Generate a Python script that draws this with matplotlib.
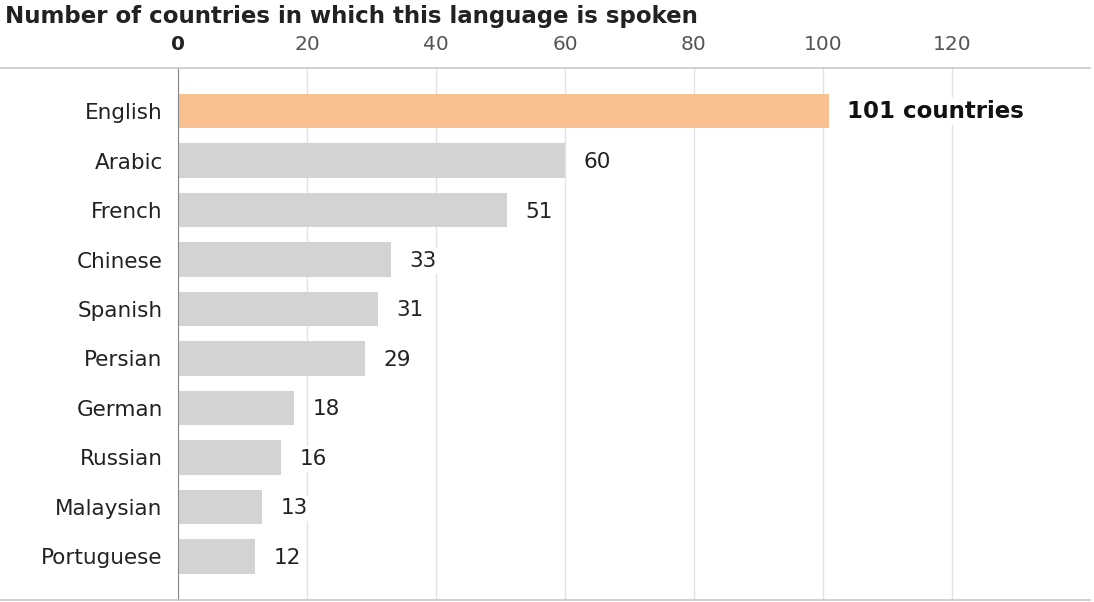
import matplotlib.pyplot as plt
from matplotlib.lines import Line2D

# Data
languages = ["English", "Arabic", "French", "Chinese", "Spanish",
             "Persian", "German", "Russian", "Malaysian", "Portuguese"]
countries = [101, 60, 51, 33, 31, 29, 18, 16, 13, 12]
tick_values = [0, 20, 40, 60, 80, 100, 120]

fig = plt.figure(figsize=(10.94, 6.02), dpi=100)
ax = fig.add_axes([178 / 1094, 2 / 602, (1090 - 178) / 1094, (600 - 68) / 602])

colors = ["#F9C18F"] + ["#D3D3D3"] * (len(languages) - 1)
positions = list(range(len(languages)))
ax.barh(positions, countries, height=0.7, color=colors, zorder=2)

ax.set_xlim(0, 141.4)
ax.set_ylim(9.88, -0.87)

# Grid and spines
ax.xaxis.tick_top()
ax.set_xticks(tick_values)
ax.set_xticklabels([str(v) for v in tick_values], fontsize=14.5, color="#555555")
ax.get_xticklabels()[0].set_fontweight("bold")
ax.get_xticklabels()[0].set_color("#222222")
ax.tick_params(axis="x", length=0, pad=10)
ax.tick_params(axis="y", length=0, pad=11)
ax.grid(axis="x", color="#E2E2E2", linewidth=1, zorder=0)
for side in ["top", "right", "bottom"]:
    ax.spines[side].set_visible(False)
ax.spines["left"].set_color("#888888")
ax.spines["left"].set_zorder(3)

ax.set_yticks(positions)
ax.set_yticklabels(languages, fontsize=15.5, color="#222222")

# Value labels
for i, v in enumerate(countries):
    if i == 0:
        ax.text(v + 2.8, i, f"{v} countries", va="center", ha="left",
                fontsize=16.5, fontweight="bold", color="#111111", zorder=4,
                bbox=dict(facecolor="white", edgecolor="none", pad=2))
    else:
        ax.text(v + 2.9, i + 0.03, str(v), va="center", ha="left",
                fontsize=15.5, color="#222222", zorder=4,
                bbox=dict(facecolor="white", edgecolor="none", pad=2))

# Horizontal rules at top and bottom spanning the full width
fig.add_artist(Line2D([0, 1090 / 1094], [1 - 68 / 602] * 2, color="#C8C8C8", linewidth=1.2))
fig.add_artist(Line2D([0, 1090 / 1094], [1 - 600 / 602] * 2, color="#C8C8C8", linewidth=1.2))

fig.text(5 / 1094, 1 - 16 / 602, "Number of countries in which this language is spoken",
         fontsize=16.5, fontweight="bold", color="#222222", va="center", ha="left")

fig.savefig("out.png", dpi=100, facecolor="white")
